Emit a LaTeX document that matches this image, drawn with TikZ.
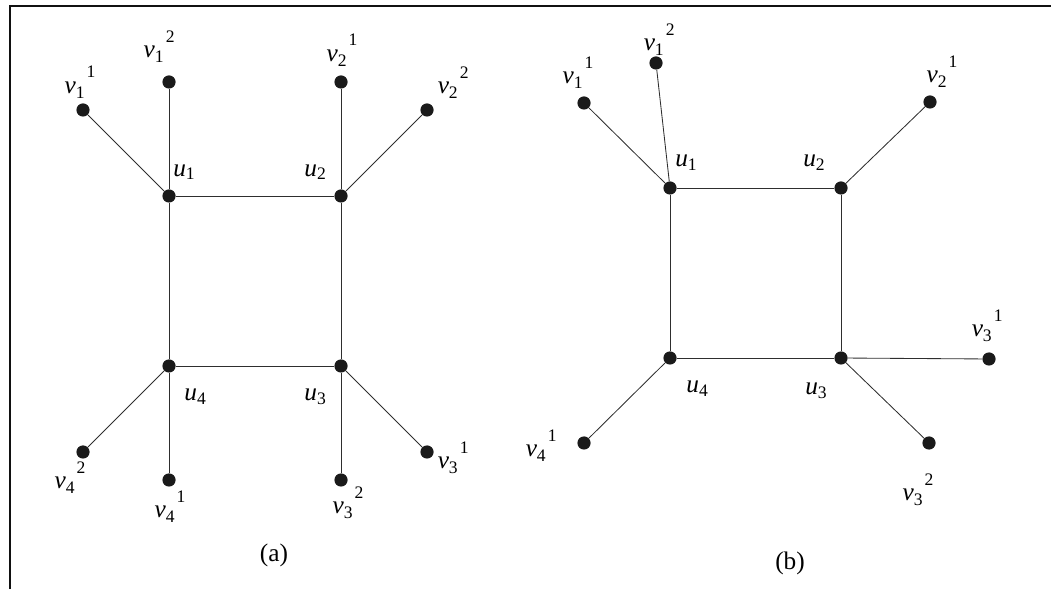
\documentclass[tikz,border=0pt]{standalone}
\usepackage{fontspec}
\setmainfont{Liberation Serif}
\usetikzlibrary{positioning}
\definecolor{c1}{HTML}{1A1A1A}
\definecolor{c2}{HTML}{2E2E2E}
\definecolor{framecolor}{HTML}{111111}

\newcommand{\subsz}{\fontsize{12.5}{12.5}\selectfont}
\newcommand{\vlab}[2]{\textit{v}\raisebox{-0.2em}{\subsz #1}\kern1.5pt\raisebox{0.6em}{\subsz #2}}
\newcommand{\ulab}[1]{\textit{u}\raisebox{-0.15em}{\subsz #1}}

\begin{document}
\begin{tikzpicture}[
    every node/.style={font=\fontsize{18}{21}\selectfont},
    dot/.style={circle, fill=c1, inner sep=0pt, minimum size=0.33cm},
    edg/.style={c2, line width=0.6pt},
    lbl/.style={inner sep=0pt},
]
\useasboundingbox (0, 0) rectangle (26.275, 14.725);

% frame, open at the right and at the bottom
\draw[framecolor, line width=1.5pt] (0.24, 0) -- (0.24, 14.575) -- (26.275, 14.575);

% ============================================================ graph (a)
\node[dot] (a-u1) at (4.225, 9.825) {};
\node[dot] (a-u2) at (8.525, 9.825) {};
\node[dot] (a-u3) at (8.525, 5.575) {};
\node[dot] (a-u4) at (4.225, 5.575) {};
\node[dot] (a-v11) at (2.075, 11.975) {};
\node[dot] (a-v12) at (4.225, 12.675) {};
\node[dot] (a-v21) at (8.525, 12.675) {};
\node[dot] (a-v22) at (10.675, 11.975) {};
\node[dot] (a-v31) at (10.675, 3.425) {};
\node[dot] (a-v32) at (8.525, 2.725) {};
\node[dot] (a-v41) at (4.225, 2.725) {};
\node[dot] (a-v42) at (2.075, 3.425) {};

\draw[edg] (a-u1) -- (a-u2) -- (a-u3) -- (a-u4) -- (a-u1);
\draw[edg] (a-u1) -- (a-v11);
\draw[edg] (a-u1) -- (a-v12);
\draw[edg] (a-u2) -- (a-v21);
\draw[edg] (a-u2) -- (a-v22);
\draw[edg] (a-u3) -- (a-v31);
\draw[edg] (a-u3) -- (a-v32);
\draw[edg] (a-u4) -- (a-v41);
\draw[edg] (a-u4) -- (a-v42);

\node[lbl] (a-u1-t) at (4.60, 10.42) {\ulab{1}};
\node[lbl] (a-u2-t) at (7.88, 10.42) {\ulab{2}};
\node[lbl] (a-u3-t) at (7.88, 4.80) {\ulab{3}};
\node[lbl] (a-u4-t) at (4.88, 4.80) {\ulab{4}};
\node[lbl] (a-v11-t) at (2.00, 12.67) {\vlab{1}{1}};
\node[lbl] (a-v12-t) at (3.98, 13.55) {\vlab{1}{2}};
\node[lbl] (a-v21-t) at (8.55, 13.47) {\vlab{2}{1}};
\node[lbl] (a-v22-t) at (11.33, 12.65) {\vlab{2}{2}};
\node[lbl] (a-v31-t) at (11.33, 3.28) {\vlab{3}{1}};
\node[lbl] (a-v32-t) at (8.70, 2.15) {\vlab{3}{2}};
\node[lbl] (a-v41-t) at (4.25, 2.05) {\vlab{4}{1}};
\node[lbl] (a-v42-t) at (1.75, 2.78) {\vlab{4}{2}};
\node[lbl] (a-cap) at (6.85, 0.85) {(a)};

% ============================================================ graph (b)
\node[dot] (b-u1) at (16.75, 10.025) {};
\node[dot] (b-u2) at (21.025, 10.025) {};
\node[dot] (b-u3) at (21.025, 5.775) {};
\node[dot] (b-u4) at (16.75, 5.775) {};
\node[dot] (b-v11) at (14.60, 12.15) {};
\node[dot] (b-v12) at (16.40, 13.15) {};
\node[dot] (b-v21) at (23.25, 12.175) {};
\node[dot] (b-v31) at (24.725, 5.75) {};
\node[dot] (b-v32) at (23.225, 3.65) {};
\node[dot] (b-v41) at (14.60, 3.65) {};

\draw[edg] (b-u1) -- (b-u2) -- (b-u3) -- (b-u4) -- (b-u1);
\draw[edg] (b-u1) -- (b-v11);
\draw[edg] (b-u1) -- (b-v12);
\draw[edg] (b-u2) -- (b-v21);
\draw[edg] (b-u3) -- (b-v31);
\draw[edg] (b-u3) -- (b-v32);
\draw[edg] (b-u4) -- (b-v41);

\node[lbl] (b-u1-t) at (17.15, 10.65) {\ulab{1}};
\node[lbl] (b-u2-t) at (20.35, 10.65) {\ulab{2}};
\node[lbl] (b-u3-t) at (20.40, 4.95) {\ulab{3}};
\node[lbl] (b-u4-t) at (17.43, 5.00) {\ulab{4}};
\node[lbl] (b-v11-t) at (14.45, 12.90) {\vlab{1}{1}};
\node[lbl] (b-v12-t) at (16.48, 13.73) {\vlab{1}{2}};
\node[lbl] (b-v21-t) at (23.55, 12.93) {\vlab{2}{1}};
\node[lbl] (b-v31-t) at (24.68, 6.58) {\vlab{3}{1}};
\node[lbl] (b-v32-t) at (22.95, 2.48) {\vlab{3}{2}};
\node[lbl] (b-v41-t) at (13.53, 3.58) {\vlab{4}{1}};
\node[lbl] (b-cap) at (19.75, 0.63) {(b)};

\end{tikzpicture}
\end{document}
